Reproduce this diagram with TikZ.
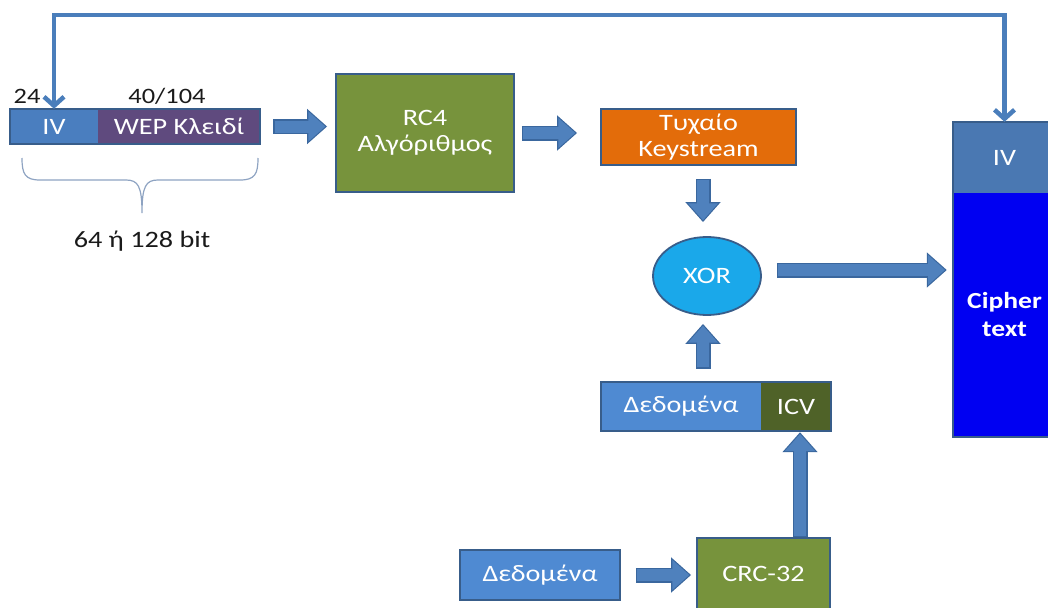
\documentclass[tikz,border=0pt]{standalone}
\usepackage{fontspec}
\setmainfont[FakeStretch=1.2]{Carlito}
\usetikzlibrary{arrows.meta,shapes.geometric,calc}

\definecolor{bdr}{HTML}{385D8A}
\definecolor{ivc}{HTML}{4A7EBF}
\definecolor{wepc}{HTML}{5F4A7E}
\definecolor{grn}{HTML}{77933C}
\definecolor{orng}{HTML}{E36C0A}
\definecolor{xorc}{HTML}{1AA8EA}
\definecolor{datac}{HTML}{4F8AD2}
\definecolor{icvc}{HTML}{4F6228}
\definecolor{civc}{HTML}{4A78B2}
\definecolor{ciphc}{HTML}{0000F2}
\definecolor{arrf}{HTML}{4F81BD}
\definecolor{arrb}{HTML}{3A679E}
\definecolor{feedc}{HTML}{4A7EBB}
\definecolor{bracec}{HTML}{8EA3C2}
\definecolor{ink}{HTML}{1A1A1A}

\tikzset{
  txt/.style={text=white, font=\fontsize{23.5}{26}\selectfont, align=center, inner sep=0pt},
  part/.style={txt, draw=none},
  box/.style={txt, draw=bdr, line width=1.8pt},
  outline/.style={draw=bdr, line width=1.8pt},
  lbl/.style={text=ink, font=\fontsize{22}{26}\selectfont, inner sep=0pt},
  arrowout/.style={line width=15pt, color=arrb, -{Triangle[width=34pt,length=20pt]}},
  arrowin/.style={line width=12pt, color=arrf, -{Triangle[width=29pt,length=17pt]}},
  feed/.style={line width=4.5pt, color=feedc, line join=miter,
    -{Straight Barb[length=9pt,width=20pt]}},
  bracestyle/.style={line width=1.2pt, color=bracec}
}

% block arrow: from, to, gap at start, gap at end
\newcommand\barrow[4]{%
  \pgfmathsetmacro\bxa{#3+1.5}\pgfmathsetmacro\bxb{#4+1.8}%
  \draw[arrowout, shorten <=#3pt, shorten >=#4pt] #1 -- #2;
  \draw[arrowin, shorten <=\bxa pt, shorten >=\bxb pt] #1 -- #2;}

\begin{document}
\begin{tikzpicture}[x=1pt, y=-1pt]
\useasboundingbox (0,0) rectangle (1048,607);
\clip (0,0) rectangle (1048,607);

% key strip: IV + WEP key
\node[part, fill=ivc, minimum width=88pt, minimum height=35pt] (iv) at (54,126.5) {IV};
\node[part, fill=wepc, minimum width=162pt, minimum height=35pt] (wep) at (179,126.5) {WEP Κλειδί};
\draw[outline] (iv.north west) rectangle (wep.south east);

\node[lbl] (n24) at (27,96) {24};
\node[lbl] (n40) at (167,96) {40/104};

% brace under the key
\draw[bracestyle] (22,158) .. controls (22,174) and (25,180) .. (40,180)
  -- (126,180) .. controls (138,180) and (142,186) .. (142,213)
  .. controls (142,186) and (146,180) .. (158,180)
  -- (240,180) .. controls (255,180) and (258,174) .. (258,158);
\node[lbl, font=\fontsize{23.5}{26}\selectfont] (bits) at (142,241) {64 ή 128 bit};

% RC4 and keystream
\node[box, fill=grn, minimum width=178pt, minimum height=118pt] (rc4) at (425,133) {RC4\\Αλγόριθμος};
\node[box, fill=orng, minimum width=195pt, minimum height=56pt] (ks) at (698.5,137) {Τυχαίο\\Keystream};

% XOR
\node[box, ellipse, fill=xorc, minimum width=108pt, minimum height=78pt] (xor) at (707,276) {XOR};

% ciphertext frame
\node[part, fill=civc, minimum width=103pt, minimum height=71pt] (civ) at (1004.5,157.5) {IV};
\node[part, fill=ciphc, minimum width=103pt, minimum height=244pt, font=\bfseries\fontsize{23}{28}\selectfont] (ctext) at (1004.5,315) {Cipher\\text};
\draw[outline] (civ.north west) rectangle (ctext.south east);

% data + ICV
\node[part, fill=datac, minimum width=160pt, minimum height=49pt] (dat) at (681,406.5) {Δεδομένα};
\node[part, fill=icvc, minimum width=70pt, minimum height=49pt] (icv) at (796,406.5) {ICV};
\draw[outline] (dat.north west) rectangle (icv.south east);

% input data and CRC
\node[box, fill=datac, minimum width=160pt, minimum height=50pt] (din) at (540,575) {Δεδομένα};
\node[box, fill=grn, minimum width=133pt, minimum height=72pt] (crc) at (763.5,574) {CRC-32};

% column / row helpers
\coordinate (colx) at (703,0);
\coordinate (rowx) at (0,270);
\coordinate (colc) at (800,0);
\coordinate (fbtop) at (500,15);

% block arrows
\barrow{(wep.east)}{(wep.east -| rc4.west)}{13}{8}
\barrow{(rc4.east)}{(rc4.east -| ks.west)}{7}{23}
\barrow{(ks.south -| colx)}{(xor.north -| colx)}{13}{14}
\barrow{(xor.east |- rowx)}{(ctext.west |- rowx)}{15}{6}
\barrow{(dat.north -| colx)}{(xor.south -| colx)}{13}{8}
\barrow{(crc.north -| colc)}{(icv.south -| colc)}{0}{1}
\barrow{(din.east)}{(din.east -| crc.west)}{15}{5}

% IV feedback line
\draw[feed] (fbtop) -| (iv.north);
\draw[feed] (fbtop) -| (civ.north);
\end{tikzpicture}
\end{document}
